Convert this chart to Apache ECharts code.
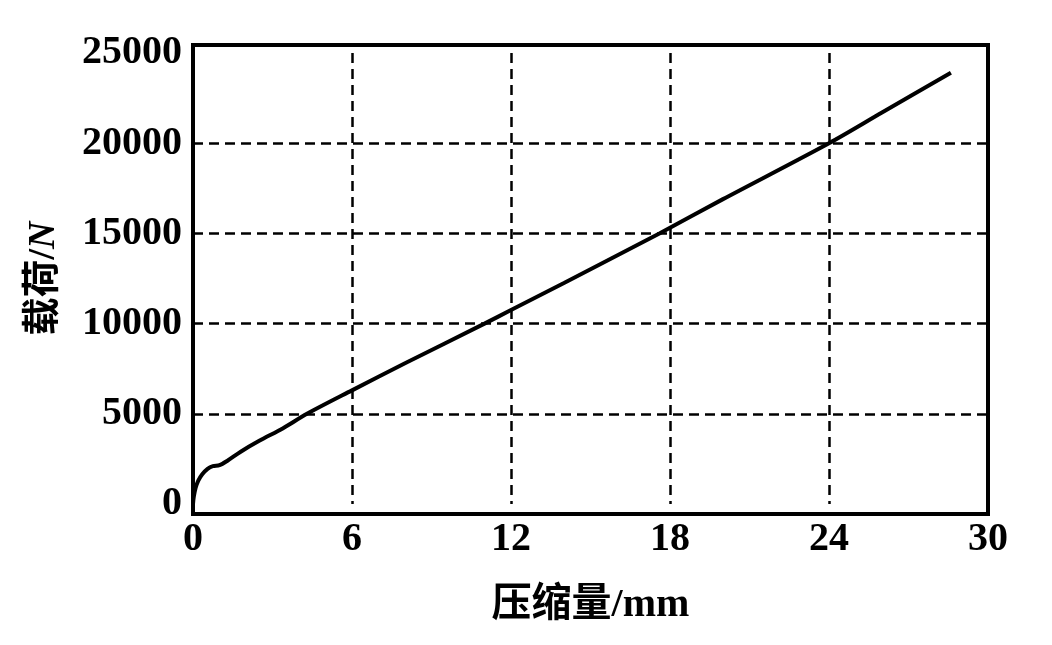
<!DOCTYPE html>
<html>
<head>
<meta charset="utf-8">
<script src="https://cdn.jsdelivr.net/npm/echarts@6/dist/echarts.min.js"></script>
<style>
html,body{margin:0;padding:0;background:#fff;}
#chart{width:1052px;height:645px;}
</style>
</head>
<body>
<div id="chart"></div>
<script>
// Data
var compression = [0, 0.03, 0.1, 0.2, 0.35, 0.55, 0.75, 1.0, 1.3, 1.8, 2.5, 3.4, 4.3, 6, 8, 11, 12, 14, 17.6, 20, 24, 26, 28.6];
var load = [0, 400, 900, 1300, 1650, 1950, 2100, 2150, 2400, 2900, 3500, 4200, 5000, 6300, 7800, 10000, 10750, 12250, 15000, 16900, 20000, 21700, 23900];
var xTicks = [0, 6, 12, 18, 24, 30];
var yTicks = [0, 5000, 10000, 15000, 20000, 25000];
var xName = '压缩量/mm';
var yNameMain = '载荷/';
var yNameUnit = 'N';

var pts = compression.map(function (v, i) { return [v, load[i]]; });
var fontFam = '"Liberation Serif", "Noto Sans CJK SC", serif';
var dashed = { show: true, showMinLine: false, showMaxLine: false, lineStyle: { color: '#000', width: 2.5, type: [10, 6] } };
var plain = function (v) { return String(v); };

var chart = echarts.init(document.getElementById('chart'), null, { renderer: 'canvas' });
chart.setOption({
  backgroundColor: '#fff',
  animation: false,
  grid: [
    { left: 193, right: 64, top: 53, bottom: 141, show: false },
    { left: 193, right: 64, top: 45, bottom: 131, show: true, borderColor: '#000', borderWidth: 4, backgroundColor: 'transparent' }
  ],
  xAxis: [
    {
      gridIndex: 0, type: 'value', min: xTicks[0], max: xTicks[xTicks.length - 1], interval: 6,
      axisLine: { show: false }, axisTick: { show: false },
      axisLabel: { color: '#000', fontFamily: fontFam, fontSize: 40, fontWeight: 'bold', margin: 16, formatter: plain },
      splitLine: dashed,
      name: xName, nameLocation: 'middle', nameGap: 82,
      nameTextStyle: { color: '#000', fontFamily: fontFam, fontSize: 40, fontWeight: 'bold' }
    },
    { gridIndex: 1, type: 'value', show: false, min: 0, max: 1 }
  ],
  yAxis: [
    {
      gridIndex: 0, type: 'value', min: yTicks[0], max: yTicks[yTicks.length - 1], interval: 5000,
      axisLine: { show: false }, axisTick: { show: false },
      axisLabel: { color: '#000', fontFamily: fontFam, fontSize: 40, fontWeight: 'bold', margin: 11, formatter: plain },
      splitLine: dashed,
      name: '{a|' + yNameMain + '}{b|' + yNameUnit + '}', nameLocation: 'middle', nameGap: 130, nameRotate: 90,
      nameTextStyle: {
        color: '#000', fontFamily: fontFam, fontSize: 38, fontWeight: 'bold',
        rich: {
          a: { color: '#000', fontFamily: fontFam, fontSize: 38, fontWeight: 'bold' },
          b: { color: '#000', fontFamily: fontFam, fontSize: 38, fontStyle: 'italic' }
        }
      }
    },
    { gridIndex: 1, type: 'value', show: false, min: 0, max: 1 }
  ],
  series: [{
    type: 'line', xAxisIndex: 0, yAxisIndex: 0,
    data: pts, showSymbol: false, smooth: 0.3,
    lineStyle: { color: '#000', width: 4 }
  }]
});
</script>
</body>
</html>
